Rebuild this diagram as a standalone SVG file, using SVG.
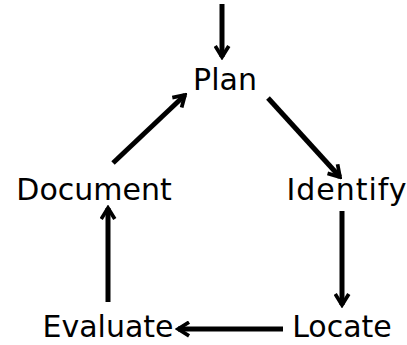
<svg xmlns="http://www.w3.org/2000/svg" width="407" height="345" viewBox="0 0 407 345">
<style>
text{font-family:"DejaVu Sans","Verdana",sans-serif;font-size:30px;fill:#000;text-anchor:middle}
.c line{stroke:#000;stroke-width:5;stroke-linecap:butt}
</style>
<defs>
<marker id="ah" viewBox="0 0 10 10" refX="8.5" refY="5" markerWidth="3.4" markerHeight="3.4" orient="auto" markerUnits="strokeWidth">
<path d="M2,1 L8.5,5 L2,9" fill="none" stroke="#000" stroke-width="2.2" stroke-linejoin="miter"/>
</marker>
</defs>
<rect width="407" height="345" fill="#fff"/>
<g class="c" id="connectors">
<line x1="222" y1="4" x2="222" y2="57" marker-end="url(#ah)"/>
<line x1="268" y1="98" x2="340" y2="177" marker-end="url(#ah)"/>
<line x1="342" y1="211" x2="342" y2="305" marker-end="url(#ah)"/>
<line x1="283" y1="329" x2="178" y2="329" marker-end="url(#ah)"/>
<line x1="108" y1="302" x2="108" y2="208" marker-end="url(#ah)"/>
<line x1="113" y1="163" x2="185" y2="95" marker-end="url(#ah)"/>
</g>
<g id="plan"><text x="225" y="90">Plan</text></g>
<g id="identify"><text x="347" y="200" letter-spacing="1">Identify</text></g>
<g id="locate"><text x="342" y="337">Locate</text></g>
<g id="evaluate"><text x="108" y="337">Evaluate</text></g>
<g id="document"><text x="94" y="200">Document</text></g>
</svg>
